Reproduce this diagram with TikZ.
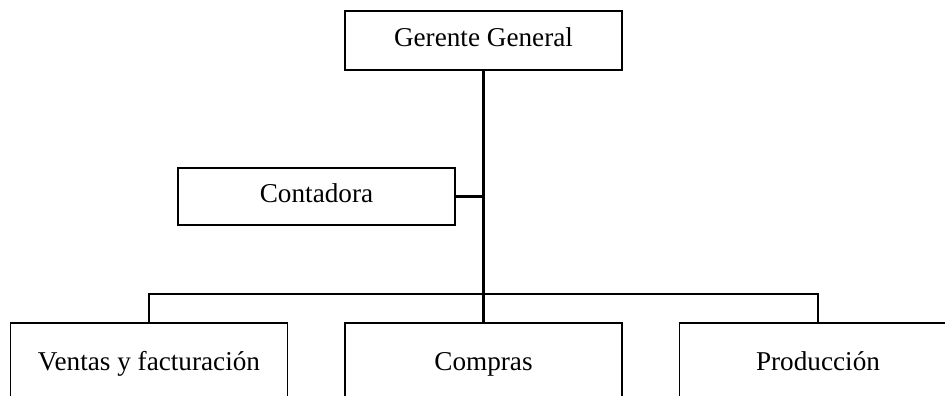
\documentclass[tikz,border=0pt]{standalone}
\usepackage{fontspec}
\setmainfont{Liberation Serif}
\begin{document}
\begin{tikzpicture}[x=1pt,y=-1pt,
  orgbox/.style={draw=black,line width=1.4pt,minimum width=277pt,inner sep=0pt,
    text height=18pt,text depth=6pt,font=\fontsize{27.2}{32}\selectfont},
  conn/.style={draw=black,line width=2.2pt}]
\clip (0,0) rectangle (945,396);
\fill[white] (0,0) rectangle (945,396);
\node[orgbox,minimum height=59pt] (gg) at (483.5,40.5) {Gerente General};
\node[orgbox,minimum height=57pt] (ct) at (316.5,196.5) {Contadora};
\node[orgbox,minimum height=82pt] (vf) at (149,364) {Ventas y facturación};
\node[orgbox,minimum height=82pt] (cp) at (483.5,364) {Compras};
\node[orgbox,minimum height=82pt] (pr) at (818,364) {Producción};
\coordinate (bar) at (483.5,294);
\draw[conn] (gg.south) -- (cp.north);
\draw[conn] (ct.east) -- (ct.east -| gg.south);
\draw[conn] (vf.north) |- (bar) -| (pr.north);
\end{tikzpicture}
\end{document}
